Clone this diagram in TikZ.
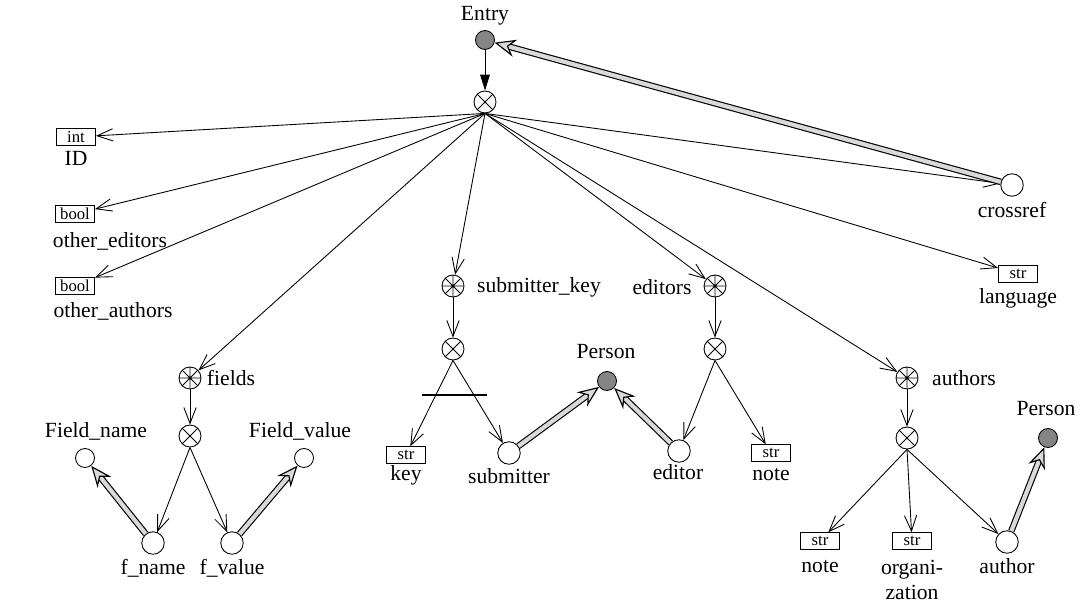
\documentclass[tikz,border=0pt]{standalone}
\usepackage{fontspec}
\setmainfont{Liberation Serif}
\usetikzlibrary{arrows.meta, decorations.markings}

\tikzset{
  tuplenode/.style={circle, draw, minimum size=0.44cm, inner sep=0pt,
    path picture={\draw (path picture bounding box.north west) -- (path picture bounding box.south east)
      (path picture bounding box.south west) -- (path picture bounding box.north east);}},
  setnode/.style={circle, draw, minimum size=0.44cm, inner sep=0pt,
    path picture={\draw (path picture bounding box.north west) -- (path picture bounding box.south east)
      (path picture bounding box.south west) -- (path picture bounding box.north east)
      (path picture bounding box.north) -- (path picture bounding box.south)
      (path picture bounding box.west) -- (path picture bounding box.east);}},
  classnode/.style={circle, draw, fill=black!48, minimum size=0.38cm, inner sep=0pt},
  refnode/.style={circle, draw, fill=white, minimum size=0.45cm, inner sep=0pt},
  smallref/.style={circle, draw, fill=white, minimum size=0.38cm, inner sep=0pt},
  basenode/.style={draw, minimum width=0.78cm, minimum height=0.33cm, inner sep=0pt,
    font=\fontsize{9.5}{10}\selectfont},
  member/.style={-{Straight Barb[length=9pt, width=7pt]}},
  refline/.style={double=black!15, double distance=2.4pt, line width=0.65pt, shorten >=6pt},
  reftip/.style={decorate, decoration={markings, mark=at position 1 with
    {\arrow[line width=0.65pt, black]{Stealth[length=12pt, width=10pt, inset=4pt, fill=black!15]}}}}
}

\begin{document}
\begin{tikzpicture}[x=0.02cm, y=-0.02cm, font=\fontsize{12.3}{14.5}\selectfont, line width=0.5pt]
\useasboundingbox (0,0) rectangle (1082,608);

% root entry
\node[classnode] (entry) at (485,40) {};
\node (entrylbl) at (485,16) {Entry};
\node[tuplenode] (root) at (485,102) {};

% simple attributes
\node[basenode] (idbox) at (76,137) {int};
\node (idlbl) at (76,158) {ID};
\node[basenode] (edbox) at (75,214) {bool};
\node (edlbl) at (110,241) {other\_editors};
\node[basenode] (aubox) at (75,286) {bool};
\node (aulbl) at (113,311) {other\_authors};
\node[basenode] (langbox) at (1018,274) {str};
\node (langlbl) at (1018,298) {language};
\node[refnode] (crossref) at (1012,185) {};
\node (crossreflbl) at (1012,210) {crossref};

% fields
\node[setnode] (fields) at (190,378) {};
\node (fieldslbl) at (231,378) {fields};
\node[tuplenode] (ftuple) at (190,436) {};
\node[smallref] (fieldname) at (85,458) {};
\node (fieldnamelbl) at (96,431) {Field\_name};
\node[smallref] (fieldvalue) at (304,458) {};
\node (fieldvaluelbl) at (300,431) {Field\_value};
\node[refnode] (fname) at (153,543) {};
\node (fnamelbl) at (153,568) {f\_name};
\node[refnode] (fvalue) at (232,543) {};
\node (fvaluelbl) at (232,568) {f\_value};

% submitter key
\node[setnode] (subkey) at (453,286) {};
\node (subkeylbl) at (539,287) {submitter\_key};
\node[tuplenode] (stuple) at (453,349) {};
\coordinate (barl) at (422,395);
\coordinate (barr) at (487,395);
\node[basenode] (keybox) at (406,455) {str};
\node (keylbl) at (406,475) {key};
\node[refnode] (submitter) at (509,453) {};
\node (submitterlbl) at (509,476) {submitter};
\node[classnode] (person) at (607,381) {};
\node (personlbl) at (606,352) {Person};

% editors
\node[setnode] (editors) at (715,286) {};
\node (editorslbl) at (662,287) {editors};
\node[tuplenode] (etuple) at (715,349) {};
\node[refnode] (editor) at (679,451) {};
\node (editorlbl) at (678,472) {editor};
\node[basenode] (enotebox) at (771,453) {str};
\node (enotelbl) at (771,475) {note};

% authors
\node[setnode] (authors) at (907,378) {};
\node (authorslbl) at (964,378) {authors};
\node[tuplenode] (atuple) at (907,438) {};
\node[basenode] (anotebox) at (820,541) {str};
\node (anotelbl) at (820,567) {note};
\node[basenode] (orgbox) at (912,541) {str};
\node[align=center] (orglbl) at (912,580) {organi-\\zation};
\node[refnode] (author) at (1007,542) {};
\node (authorlbl) at (1007,566) {author};
\node[classnode] (personb) at (1048,438) {};
\node (personblbl) at (1046,409) {Person};

% edges
\draw[-{Triangle[length=9pt, width=5.5pt]}] (entry) -- (root);
\foreach \t in {idbox, edbox, aubox, fields, subkey, editors, authors, langbox, crossref}
  \draw[member] (root.south) -- (\t);
\draw[member] (fields) -- (ftuple);
\draw[member] (subkey) -- (stuple);
\draw[member] (editors) -- (etuple);
\draw[member] (authors) -- (atuple);
\foreach \a/\b in {ftuple/fname, ftuple/fvalue, stuple/keybox, stuple/submitter,
    etuple/editor, etuple/enotebox, atuple/anotebox, atuple/orgbox, atuple/author}
  \draw[member] (\a.south) -- (\b);
\draw[line width=1.7pt] (barl) -- (barr);
% references
\foreach \a/\b in {fname/fieldname, fvalue/fieldvalue, submitter/person,
    editor/person, author/personb, crossref/entry} {
  \draw[refline] (\a) -- (\b);
  \path[reftip] (\a) -- (\b);
}
\end{tikzpicture}
\end{document}
